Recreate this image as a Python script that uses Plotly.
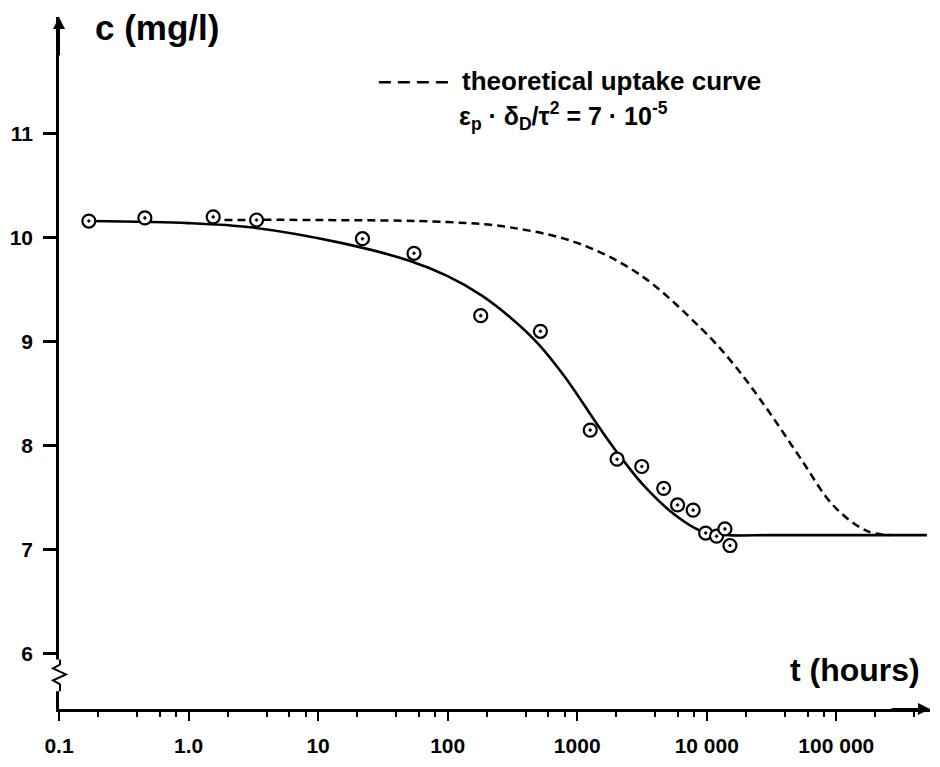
import plotly.graph_objects as go

# ---------------- data ----------------
t_meas = [0.17, 0.46, 1.55, 3.35, 22, 55, 180, 520, 1260, 2030, 3150, 4650, 5950, 7850, 9800, 11900, 13800, 15100]
c_meas = [10.16, 10.19, 10.20, 10.17, 9.99, 9.85, 9.25, 9.10, 8.15, 7.87, 7.80, 7.59, 7.43, 7.38, 7.16, 7.13, 7.20, 7.04]

t_fit = [0.17, 1, 3, 15, 50, 100, 180, 300, 500, 794, 1530, 2050, 3300, 5600, 9000, 15000, 30000, 100000, 500000]
c_fit = [10.16, 10.14, 10.10, 9.95, 9.78, 9.63, 9.45, 9.24, 8.98, 8.67, 8.15, 7.93, 7.61, 7.34, 7.18, 7.14, 7.14, 7.14, 7.14]

t_theo = [1.5, 10, 100, 300, 1000, 3000, 9000, 16200, 29300, 52800, 95600, 172000, 260000]
c_theo = [10.17, 10.17, 10.15, 10.10, 9.95, 9.65, 9.13, 8.78, 8.35, 7.88, 7.42, 7.18, 7.14]

x_tickvals = [0.1, 1, 10, 100, 1000, 10000, 100000]
x_ticktext = ["0.1", "1.0", "10", "100", "1000", "10 000", "100 000"]
y_tickvals = [6, 7, 8, 9, 10, 11]
x_minor = [m * 10 ** e for e in range(-1, 6) for m in (2, 4, 6, 8)]

FONT = "Liberation Sans, Arial, Helvetica, sans-serif"
W, H = 940, 767
L, R, T, B = 56, 10, 17, 50
PW, PH = W - L - R, H - T - B


def px(x):
    return (x - L) / PW


def py(y):
    return (H - B - y) / PH


fig = go.Figure()
fig.add_trace(go.Scatter(x=t_theo, y=c_theo, mode="lines", line_shape="spline",
                         line=dict(color="black", width=2.5, dash="8px,5px"),
                         showlegend=False, hoverinfo="skip"))
fig.add_trace(go.Scatter(x=t_fit, y=c_fit, mode="lines", line_shape="spline",
                         line=dict(color="black", width=2.6, smoothing=0.9),
                         showlegend=False, hoverinfo="skip"))
fig.add_trace(go.Scatter(x=t_meas, y=c_meas, mode="markers",
                         marker=dict(symbol="circle-dot", size=13, color="white",
                                     line=dict(color="black", width=2.2)),
                         showlegend=False))

shapes = []
# y-axis break: white gap + zigzag
shapes.append(dict(type="rect", xref="paper", yref="paper",
                   x0=px(50), x1=px(62), y0=py(699), y1=py(667),
                   fillcolor="white", line=dict(width=0), layer="above"))
zz = [(57, 667), (57, 672), (50, 676), (63, 682), (50, 688), (57, 692), (57, 699)]
path = "M " + " L ".join(f"{px(a)},{py(b)}" for a, b in zz)
shapes.append(dict(type="path", xref="paper", yref="paper", path=path,
                   line=dict(color="black", width=2), layer="above"))
# legend dash sample
shapes.append(dict(type="line", xref="paper", yref="paper",
                   x0=px(377), x1=px(450), y0=py(83), y1=py(83),
                   line=dict(color="black", width=2.5, dash="12px,7px")))

annotations = [
    dict(x=0, y=1, xref="paper", yref="paper", ax=0, ay=40,
         text="", showarrow=True, arrowhead=2, arrowsize=1.2, arrowwidth=2, arrowcolor="black"),
    dict(x=1, y=0, xref="paper", yref="paper", ax=-40, ay=0,
         text="", showarrow=True, arrowhead=2, arrowsize=1.2, arrowwidth=2, arrowcolor="black"),
    dict(x=px(90), y=py(28), xref="paper", yref="paper", xanchor="left", yanchor="middle",
         text="<b>c (mg/l)</b>", showarrow=False, font=dict(family=FONT, size=35, color="black")),
    dict(x=px(922), y=py(678), xref="paper", yref="paper", xanchor="right", yanchor="middle",
         text="<b>t (hours)</b>", showarrow=False, font=dict(family=FONT, size=32, color="black")),
    dict(x=px(458), y=py(82), xref="paper", yref="paper", xanchor="left", yanchor="middle",
         text="<b>theoretical uptake curve</b>", showarrow=False,
         font=dict(family=FONT, size=26, color="black")),
    dict(x=px(455), y=py(117), xref="paper", yref="paper", xanchor="left", yanchor="middle",
         text="<b>ε<sub>p</sub> · δ<sub>D</sub>/τ<sup>2</sup> = 7 · 10<sup>-5</sup></b>", showarrow=False,
         font=dict(family=FONT, size=25, color="black")),
]

fig.update_layout(
    width=W, height=H, margin=dict(l=L, r=R, t=T, b=B),
    paper_bgcolor="white", plot_bgcolor="white",
    font=dict(family=FONT, color="black"),
    shapes=shapes, annotations=annotations,
    xaxis=dict(type="log", range=[-1, -1 + PW / 130], showgrid=False, zeroline=False,
               showline=True, linecolor="black", linewidth=2.5,
               tickmode="array", tickvals=x_tickvals, ticktext=x_ticktext,
               ticks="outside", ticklen=9, tickwidth=2, tickcolor="black",
               ticklabelstandoff=7,
               tickfont=dict(family=FONT, size=21, color="black", weight="bold"),
               minor=dict(tickmode="array", tickvals=x_minor, ticks="outside",
                          ticklen=5, tickwidth=1.5, tickcolor="black", showgrid=False)),
    yaxis=dict(range=[5.468, 5.468 + PH / 105.2], showgrid=False, zeroline=False,
               showline=True, linecolor="black", linewidth=2.5,
               tickmode="array", tickvals=y_tickvals,
               ticks="outside", ticklen=13, tickwidth=2.5, tickcolor="black",
               ticklabelstandoff=6,
               tickfont=dict(family=FONT, size=21, color="black", weight="bold")),
)

fig.write_html("out.html")
